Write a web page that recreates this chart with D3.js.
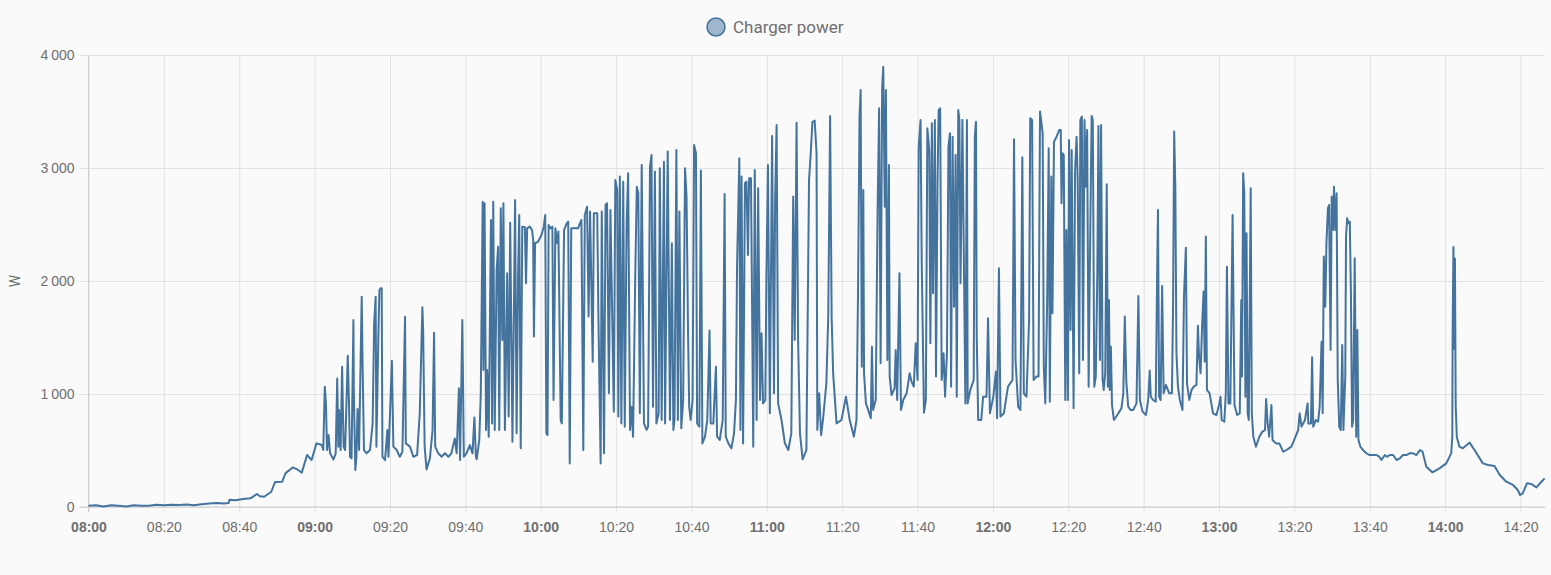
<!DOCTYPE html>
<html>
<head>
<meta charset="utf-8">
<script src="https://cdn.jsdelivr.net/npm/d3@7"></script>
<style>
  html, body { margin: 0; padding: 0; background: #fafafa; }
  svg { display: block; font-family: Roboto, "Noto Sans", sans-serif; }
</style>
</head>
<body>
<div id="chart"></div>
<script>
const rampUp = [
  [0, 10], [2, 15], [4, 5], [6, 15], [8, 10], [10, 5], [12, 15], [14, 10], [16, 12], [18, 20],
  [20, 15], [22, 20], [24, 18], [26, 22], [28, 15], [30, 25], [32, 30], [34, 35], [36, 30],
  [37.2, 35], [37.4, 65], [39, 60], [41, 70], [43, 77], [44.7, 115], [45.5, 95], [46.6, 91],
  [48.5, 135], [49.5, 221], [51.4, 224], [52.3, 300], [54.2, 350], [55.5, 330], [56.6, 304],
  [58, 460], [59.2, 416]
];

const spikes0900 = [
  [60.5, 563], [61.9, 548], [62.3, 504], [62.7, 1065], [63.0, 917], [63.3, 504], [63.7, 637],
  [64.1, 475], [65.0, 421], [65.6, 475], [66.0, 1138], [66.3, 534], [66.5, 858], [66.9, 504],
  [67.3, 1242], [67.7, 534], [68.1, 504], [68.8, 1339], [69.1, 947], [69.4, 445], [69.8, 430],
  [70.3, 1655], [70.4, 1040], [70.8, 327], [71.1, 445], [71.4, 867], [71.8, 504], [72.5, 1861],
  [72.7, 1330], [73.1, 504], [73.8, 475], [74.7, 504], [75.4, 740], [75.8, 1625], [76.2, 1861],
  [76.4, 534], [76.9, 1478], [77.2, 1920], [77.5, 1935], [77.8, 1935], [78.0, 445], [78.7, 415],
  [79.3, 681], [79.6, 445], [80.5, 1295], [80.9, 534], [81.8, 504], [82.6, 445], [83.3, 489],
  [84.0, 1684], [84.2, 563], [85.3, 534], [86.2, 445], [87.2, 460], [87.9, 829], [88.6, 1767],
  [88.8, 1566], [89.2, 534], [89.7, 333], [90.6, 430], [91.3, 681], [91.7, 1542], [92.0, 534],
  [92.8, 475], [93.7, 445], [94.6, 475], [95.5, 445], [96.3, 475], [97.2, 607], [97.7, 475],
  [98.3, 1050], [98.6, 415], [99.2, 1655], [99.6, 445], [100.3, 475], [101.2, 548], [101.9, 475],
  [102.4, 793], [102.8, 445]
];

const block0943 = [
  [103.0, 422], [103.7, 593], [104.1, 1006], [104.6, 2702], [104.8, 1213], [105.1, 2688],
  [105.5, 682], [105.8, 1213], [106.2, 622], [106.8, 2540], [107.1, 740], [107.4, 2702],
  [107.8, 682], [108.3, 2098], [108.7, 2304], [109.0, 682], [109.4, 2643], [109.8, 1478],
  [110.1, 2688], [110.5, 682], [111.1, 2068], [111.5, 800], [111.9, 2516], [112.5, 578],
  [113.2, 2717], [113.6, 652], [114.0, 2068], [114.3, 2584], [114.7, 519], [115.1, 2481],
  [115.8, 2475], [116.1, 1980], [116.4, 2466], [117.1, 2481], [117.7, 2451], [118.0, 2363],
  [118.2, 1508], [118.5, 2334], [119.3, 2348], [120.2, 2407], [120.8, 2481], [121.2, 2584],
  [121.5, 652], [121.8, 637], [122.1, 2496], [122.6, 2466], [123.1, 2481], [123.4, 947],
  [123.9, 2466], [124.4, 2334], [124.7, 2437], [125.3, 770], [125.6, 740], [126.2, 2451],
  [126.9, 2510], [127.3, 2525], [127.7, 386], [128.1, 2466], [129.1, 2466], [129.9, 2466],
  [130.8, 2540], [131.3, 505], [131.7, 2584], [132.3, 2658], [132.7, 1685], [133.1, 2614],
  [133.8, 1286], [134.1, 2599], [135.0, 2599], [135.3, 1714], [135.9, 386], [136.2, 2614],
  [136.8, 475], [137.2, 2673], [137.6, 2688], [138.1, 1006], [138.5, 2629], [139.4, 844],
  [139.8, 2894], [140.3, 2806], [140.6, 800], [141.0, 2924], [141.4, 740], [141.9, 2879],
  [142.3, 711], [142.8, 2510], [143.2, 2953], [143.7, 682], [144.1, 888], [144.5, 622],
  [145.1, 2068], [145.5, 2835], [145.9, 2776], [146.3, 829], [146.8, 3027], [147.4, 740],
  [148.1, 682], [148.5, 711], [149.0, 3012], [149.4, 3115], [149.8, 888], [150.3, 2968],
  [150.7, 740], [151.3, 829], [151.6, 2997], [152.1, 770]
];

const block1032 = [
  [152.7, 3056], [153.0, 740], [153.7, 3145], [154.3, 770], [154.8, 2334], [155.2, 682],
  [155.5, 770], [156.0, 3160], [156.4, 770], [156.8, 2614], [157.3, 696], [157.8, 947],
  [158.3, 2997], [158.7, 2747], [159.1, 1537], [159.4, 888], [159.8, 770], [160.3, 947],
  [160.7, 3204], [161.2, 3130], [161.5, 740], [162.1, 711], [162.5, 2977], [162.9, 563],
  [163.6, 622], [164.2, 770], [164.8, 1561], [165.1, 740], [165.8, 740], [166.5, 1242],
  [166.8, 622], [167.5, 593], [168.3, 770], [168.8, 2770], [169.1, 622], [169.8, 563],
  [170.6, 519], [171.3, 652], [171.8, 947], [172.1, 2127], [172.7, 3086], [173.0, 682],
  [173.3, 2924], [173.7, 563], [174.2, 2865], [174.6, 2879], [175.0, 2230], [175.3, 2909],
  [175.8, 2909], [176.1, 1744], [176.4, 534], [176.8, 2983], [177.3, 770], [177.7, 2820],
  [178.2, 947], [178.6, 1537], [179.0, 917], [179.6, 947], [179.9, 2068], [180.3, 3027],
  [180.8, 829], [181.4, 3283], [181.9, 1006], [182.2, 2717], [182.6, 3381], [183.0, 917],
  [183.9, 770], [184.8, 563], [185.7, 504], [186.5, 652], [187.0, 2747], [187.4, 1478],
  [187.9, 3401], [188.3, 1478], [188.8, 652], [189.5, 422], [190.5, 504], [191.2, 2894],
  [191.6, 3101], [192.1, 3407], [192.7, 3419], [193.2, 3130], [193.4, 682], [193.9, 1006],
  [194.4, 637], [194.9, 770], [195.8, 1095], [196.3, 1685], [196.8, 3460], [197.2, 1685],
  [197.6, 1183], [198.5, 740], [199.8, 770], [201.0, 976], [202.0, 770]
];

const block1123 = [
  [203.1, 622], [203.8, 770], [204.2, 1891], [204.6, 3454], [204.9, 3690], [205.2, 1242],
  [205.6, 2806], [205.8, 1183], [206.3, 917], [206.9, 858], [207.6, 785], [207.9, 1419],
  [208.2, 858], [208.9, 947], [209.4, 2629], [209.8, 3528], [210.2, 1272], [210.6, 3705],
  [210.9, 3897], [211.3, 2658], [211.6, 3690], [212.0, 1301], [212.4, 3027], [212.6, 1154],
  [213.1, 991], [213.9, 1050], [214.2, 1390], [214.6, 947], [215.2, 2068], [215.6, 858],
  [216.2, 947], [217.1, 1006], [217.9, 1183], [218.4, 1109], [219.0, 1065], [219.5, 1449],
  [220.0, 1124], [220.3, 3183], [220.8, 3425], [221.1, 2186], [221.7, 835], [222.2, 947],
  [222.6, 3351], [223.1, 3159], [223.4, 1449], [223.8, 3395], [224.1, 1891], [224.6, 3425],
  [224.9, 1154], [225.3, 2865], [225.6, 3514], [226.0, 3528], [226.4, 1124], [226.9, 1360],
  [227.3, 976], [227.8, 1360], [228.2, 3189], [228.6, 3307], [228.9, 1065], [229.3, 3277],
  [229.7, 1773], [230.1, 3115], [230.4, 976], [230.8, 3514], [231.1, 3425], [231.4, 1980],
  [231.9, 3425], [232.7, 917], [233.1, 3425], [233.3, 917], [234.0, 1036], [234.9, 1124],
  [235.2, 3277], [235.5, 3410], [235.7, 1508], [236.1, 770], [236.9, 770], [237.4, 976],
  [238.3, 976], [238.7, 1670], [239.2, 829], [240.1, 976], [240.8, 1198], [241.1, 785],
  [241.6, 2112], [242.0, 800], [242.9, 829], [244.0, 1065], [245.2, 1124], [245.6, 3254],
  [246.0, 1301], [246.7, 888], [247.3, 858], [247.8, 3095], [248.2, 1006], [248.9, 976],
  [249.6, 1655], [249.9, 3440], [250.4, 3425], [250.8, 1124], [251.5, 1154], [252.1, 1154]
];

const block1212 = [
  [252.5, 3499], [253.2, 3307], [253.5, 1242], [253.9, 917], [254.4, 1832], [254.8, 3174],
  [255.1, 932], [255.5, 2924], [255.8, 1714], [256.2, 3233], [256.9, 3277], [257.6, 3337],
  [258.0, 3337], [258.2, 2688], [258.5, 3130], [258.8, 3115], [259.2, 947], [259.5, 2451],
  [259.9, 947], [260.2, 3248], [260.6, 1567], [260.9, 3160], [261.4, 873], [261.8, 2983],
  [262.2, 3277], [262.5, 2894], [262.9, 1183], [263.2, 3425], [263.6, 3455], [263.9, 1301],
  [264.3, 3425], [264.7, 2835], [265.0, 3337], [265.4, 1065], [265.7, 2068], [266.2, 3460],
  [266.5, 3425], [266.9, 1065], [267.3, 1154], [267.7, 2068], [268.0, 3372], [268.4, 1301],
  [268.7, 3381], [269.1, 1124], [269.4, 1036], [269.8, 1183], [270.2, 2856], [270.5, 1065],
  [270.8, 1832], [271.0, 1036], [271.3, 1419], [271.6, 903], [272.1, 770], [273.0, 814],
  [274.1, 873], [274.6, 1006], [275.0, 1685], [275.4, 1109], [275.9, 888], [276.5, 858],
  [277.2, 858], [278.1, 917], [278.6, 1867], [279.0, 947], [279.7, 844], [280.6, 814],
  [281.2, 947], [281.6, 1207], [281.9, 976], [282.5, 947], [283.2, 932], [283.6, 2127],
  [283.8, 2629], [284.1, 976], [284.5, 947], [284.9, 1956], [285.3, 1006], [285.9, 1080],
  [286.8, 1006], [287.5, 1006], [287.8, 1773], [288.1, 3322], [288.4, 2835], [288.7, 1360],
  [289.1, 1065], [289.6, 947], [290.3, 858], [290.7, 1862], [291.2, 2295], [291.5, 1095],
  [292.1, 947], [292.7, 1036], [293.3, 1065], [294.0, 1080], [294.4, 1605], [294.7, 1330],
  [295.1, 1183], [295.5, 1596], [295.9, 1906], [296.2, 1286], [296.5, 2393], [296.8, 1036],
  [297.5, 1006], [298.4, 829], [299.3, 814], [300.0, 903], [300.4, 976], [300.7, 770],
  [301.4, 755], [301.8, 1006], [302.1, 2127], [302.5, 917], [303.0, 917]
];

const block1303 = [
  [303.6, 2584], [304.1, 903], [304.8, 814], [305.5, 829], [305.9, 1832], [306.1, 1154],
  [306.4, 2953], [306.7, 2776], [307.0, 976], [307.3, 2422], [307.6, 829], [307.9, 770],
  [308.4, 2820], [308.7, 829], [309.1, 622], [309.8, 534], [310.7, 622], [311.5, 667],
  [312.2, 681], [312.5, 956], [312.9, 740], [313.3, 622], [313.9, 903], [314.2, 593],
  [315.1, 563], [316.0, 563], [317.0, 490], [317.9, 504], [319.2, 534], [320.1, 608],
  [321.0, 681], [321.4, 829], [321.9, 711], [322.8, 770], [323.5, 917], [323.7, 740],
  [324.4, 740], [324.7, 1325], [325.0, 711], [325.7, 770], [326.3, 755], [326.7, 888],
  [327.2, 1463], [327.5, 829], [327.8, 2216], [328.2, 1773], [328.5, 2334], [328.9, 2643],
  [329.2, 2673], [329.6, 1390], [329.9, 2747], [330.3, 2452], [330.5, 2835], [330.9, 2452],
  [331.2, 2776], [331.5, 1124], [331.9, 711], [332.3, 681], [332.7, 1434], [333.0, 681],
  [333.5, 1154], [333.7, 2393], [334.0, 2555], [334.3, 2511], [334.7, 2525], [335.0, 1891],
  [335.3, 711], [335.6, 770], [336.0, 2201], [336.4, 622], [336.7, 1567], [337.0, 593],
  [337.5, 534], [338.2, 504], [339.1, 475], [340.0, 460], [341.8, 460], [342.5, 445],
  [343.1, 416], [344.0, 460], [344.6, 445], [345.3, 460], [346.2, 460], [347.1, 416],
  [348.0, 431], [348.8, 460], [349.7, 460], [350.6, 475], [351.5, 475], [352.4, 460],
  [353.3, 504], [354.0, 490]
];

const tail = [
  [355.0, 357], [356.6, 307], [358.5, 342], [360.3, 386], [361.6, 475], [361.9, 620],
  [362.0, 1600], [362.2, 2300], [362.4, 1400], [362.6, 2200], [362.8, 900], [363.1, 620],
  [363.8, 534], [364.7, 519], [366.5, 570], [367.8, 504], [370.0, 386], [371.4, 372],
  [373.1, 363], [374.5, 283], [376.2, 224], [378.0, 195], [379.3, 150], [379.9, 106],
  [380.6, 121], [381.7, 210], [382.9, 204], [384.2, 174], [385.2, 210], [386.4, 254]
];

const yTicks = [0, 1000, 2000, 3000, 4000];
const seriesName = 'Charger power';
const unitLabel = 'W';

const startTime = new Date(2024, 0, 1, 8, 0);
const endMinute = 386.5;

const colors = {
  line: '#44739e',
  grid: '#e2e2e2',
  axis: '#cdcdcd',
  text: '#6f6f6f'
};

const readings = [].concat(rampUp, spikes0900, block0943, block1032, block1123, block1212, block1303, tail)
  .map(([m, w]) => ({ time: d3.timeMinute.offset(startTime, 0).getTime() + m * 60000, watts: w }))
  .map(d => ({ time: new Date(d.time), watts: d.watts }));

const width = 1551;
const height = 575;
const plot = { left: 88.5, right: 1545, top: 55, bottom: 507 };

const svg = d3.select('#chart')
  .append('svg')
    .attr('width', width)
    .attr('height', height);

svg.append('rect')
  .attr('width', width)
  .attr('height', height)
  .attr('fill', '#fafafa');

const x = d3.scaleTime()
  .domain([startTime, new Date(startTime.getTime() + endMinute * 60000)])
  .range([plot.left, plot.right]);

const y = d3.scaleLinear()
  .domain([0, 4000])
  .range([plot.bottom, plot.top]);

const locale = d3.formatLocale({ decimal: ',', thousands: '\u2009', grouping: [3], currency: ['', ''] });
const fmtW = locale.format(',d');
const fmtTime = d3.timeFormat('%H:%M');

// horizontal grid + y labels
const yAxis = svg.append('g')
  .attr('transform', `translate(${plot.left - 9},0)`)
  .call(d3.axisLeft(y)
    .tickValues(yTicks)
    .tickSize(-(plot.right - plot.left + 9))
    .tickPadding(5)
    .tickFormat(fmtW));

yAxis.select('.domain').remove();
yAxis.selectAll('line').attr('stroke', colors.grid);
yAxis.selectAll('text')
  .attr('fill', colors.text)
  .style('font-size', '14px');

// vertical grid + time labels
const xAxis = svg.append('g')
  .attr('transform', `translate(0,${plot.bottom + 5})`)
  .call(d3.axisBottom(x)
    .ticks(d3.timeMinute.every(20))
    .tickSize(-(plot.bottom + 5 - plot.top))
    .tickPadding(10)
    .tickFormat(fmtTime));

xAxis.select('.domain').remove();
xAxis.selectAll('line').attr('stroke', colors.grid);
xAxis.selectAll('text')
  .attr('fill', colors.text)
  .style('font-size', '14px')
  .style('font-weight', d => (d.getMinutes() === 0 ? 'bold' : 'normal'));

// axis lines
svg.append('line')
  .attr('x1', plot.left).attr('x2', plot.left)
  .attr('y1', plot.top).attr('y2', plot.bottom + 5)
  .attr('stroke', colors.axis);

svg.append('line')
  .attr('x1', plot.left - 9).attr('x2', plot.right)
  .attr('y1', plot.bottom).attr('y2', plot.bottom)
  .attr('stroke', colors.axis);

svg.append('text')
  .attr('transform', `translate(20,${(plot.top + plot.bottom) / 2}) rotate(-90)`)
  .attr('text-anchor', 'middle')
  .attr('fill', colors.text)
  .style('font-size', '14px')
  .text(unitLabel);

const line = d3.line()
  .x(d => x(d.time))
  .y(d => y(d.watts));

svg.append('path')
  .datum(readings)
  .attr('fill', 'none')
  .attr('stroke', colors.line)
  .attr('stroke-width', 2)
  .attr('stroke-linejoin', 'round')
  .attr('d', line);

// legend
const legend = svg.append('g')
  .attr('transform', 'translate(716,27)');

legend.append('circle')
  .attr('r', 9)
  .attr('fill', 'rgba(68,115,158,0.5)')
  .attr('stroke', colors.line)
  .attr('stroke-width', 1.5);

legend.append('text')
  .attr('x', 17)
  .attr('dy', '0.35em')
  .attr('fill', colors.text)
  .style('font-size', '17px')
  .text(seriesName);
</script>
</body>
</html>
